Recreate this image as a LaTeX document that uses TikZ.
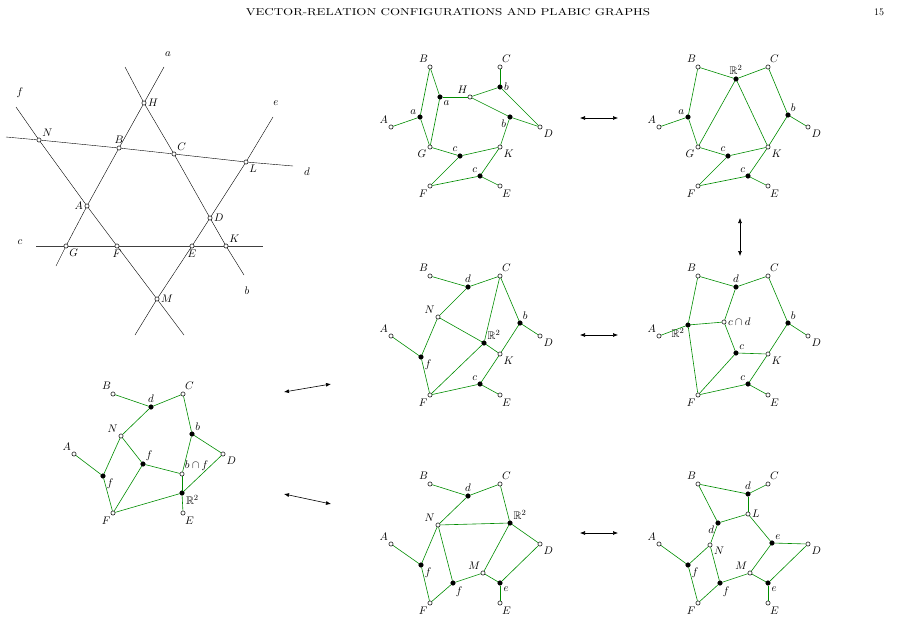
\documentclass[tikz,border=0pt]{standalone}
\usepackage{amsmath}
\usepackage{amssymb}
\usetikzlibrary{arrows.meta}
\tikzset{
  wv/.style={circle,draw,fill=white,inner sep=0pt,minimum size=4.2pt,line width=0.5pt},
  bv/.style={circle,draw,fill=black,inner sep=0pt,minimum size=4.6pt},
  edge/.style={green!55!black,line width=0.6pt},
  lbl/.style={font=\fontsize{11}{13}\selectfont,inner sep=1.5pt},
  mv/.style={<->,>={Latex[length=5pt,width=4pt]},line width=0.6pt}
}
% the six boundary vertices of a plabic graph
\newcommand\Bdry[1]{
  \node[wv,label={[lbl]125:$A$}] (#1A) at (391,127) {};
  \node[wv,label={[lbl]100:$B$}] (#1B) at (430,67) {};
  \node[wv,label={[lbl]80:$C$}] (#1C) at (500,67) {};
  \node[wv,label={[lbl]-40:$D$}] (#1D) at (540,127) {};
  \node[wv,label={[lbl]-80:$E$}] (#1E) at (500,186) {};
  \node[wv,label={[lbl]-110:$F$}] (#1F) at (430,186) {};
}
\begin{document}
\begin{tikzpicture}[x=1pt,y=-1pt]
	\useasboundingbox (0,0) rectangle (897,629);

	% running head
	\node[font=\fontsize{10}{12}\selectfont,xscale=1.3] (head) at (448,12) {VECTOR-RELATION CONFIGURATIONS AND PLABIC GRAPHS};
	\node[font=\fontsize{10}{12}\selectfont] (page) at (879,12) {15};

	% the line arrangement
	\foreach \Name/\Pos/\Where in {H/{144,103}/right,N/{39,140}/above right,B/{119,148}/above,
	  C/{174,154}/above right,L/{246,162}/below right,A/{87,206}/left,D/{210,218}/right,
	  G/{66,246}/below right,F/{117,246}/below,E/{192,246}/below,K/{226,246}/above right,M/{157,299}/right}
	  \node[wv,label={[lbl]\Where:$\Name$}] (l\Name) at (\Pos) {};
	\coordinate (aT) at (164,67); \coordinate (aB) at (56,266);
	\coordinate (bT) at (125,67); \coordinate (bB) at (244,275);
	\coordinate (fT) at (16,107); \coordinate (fB) at (184,335);
	\coordinate (eT) at (273,117); \coordinate (eB) at (135,335);
	\coordinate (dL) at (6,137); \coordinate (dR) at (293,166);
	\coordinate (cL) at (36,246); \coordinate (cR) at (263,246);
	\draw (aT) -- (lH) -- (lB) -- (lA) -- (lG) -- (aB);
	\draw (bT) -- (lH) -- (lC) -- (lD) -- (lK) -- (bB);
	\draw (fT) -- (lN) -- (lA) -- (lF) -- (lM) -- (fB);
	\draw (eT) -- (lL) -- (lD) -- (lE) -- (lM) -- (eB);
	\draw (dL) -- (lN) -- (lB) -- (lC) -- (lL) -- (dR);
	\draw[line width=0.8pt,black!75] (cL) -- (lG) -- (lF) -- (lE) -- (lK) -- (cR);
	\node[lbl] (la) at (168,54) {$a$};
	\node[lbl] (lb) at (247,291) {$b$};
	\node[lbl] (lc) at (20,242) {$c$};
	\node[lbl] (ld) at (307,172) {$d$};
	\node[lbl] (le) at (276,103) {$e$};
	\node[lbl] (lf) at (20,93) {$f$};

	% top middle
	\begin{scope}
	  \Bdry{p}
	  \node[wv,label={[lbl]-150:$G$}] (pG) at (430,147) {};
	  \node[wv,label={[lbl]-40:$K$}] (pK) at (500,147) {};
	  \node[wv,label={[lbl]110:$H$}] (pH) at (470,97) {};
	  \node[bv,label={[lbl]150:$a$}] (pa) at (420,117) {};
	  \node[bv,label={[lbl]-40:$a$}] (pA2) at (440,97) {};
	  \node[bv,label={[lbl]0:$b$}] (pb) at (500,87) {};
	  \node[bv,label={[lbl]-160:$b$}] (pB2) at (510,117) {};
	  \node[bv,label={[lbl]110:$c$}] (pc) at (460,156) {};
	  \node[bv,label={[lbl]120:$c$}] (pC2) at (480,176) {};
	  \foreach \u/\v in {A/a,a/B,a/G,B/A2,A2/G,A2/H,H/b,b/C,b/D,H/B2,B2/D,B2/K,G/c,c/K,c/F,F/C2,C2/K,C2/E}
	    \draw[edge] (p\u) -- (p\v);
	\end{scope}

	% top right
	\begin{scope}[shift={(268,0)}]
	  \Bdry{q}
	  \node[wv,label={[lbl]-150:$G$}] (qG) at (430,147) {};
	  \node[wv,label={[lbl]-40:$K$}] (qK) at (500,147) {};
	  \node[bv,label={[lbl]90:$\mathbb{R}^2$}] (qR) at (468,79) {};
	  \node[bv,label={[lbl]150:$a$}] (qa) at (420,117) {};
	  \node[bv,label={[lbl]60:$b$}] (qb) at (520,115) {};
	  \node[bv,label={[lbl]110:$c$}] (qc) at (460,156) {};
	  \node[bv,label={[lbl]120:$c$}] (qC2) at (480,176) {};
	  \foreach \u/\v in {A/a,a/B,a/G,B/R,R/C,R/G,R/K,C/b,b/D,b/K,G/c,c/K,c/F,F/C2,C2/K,C2/E}
	    \draw[edge] (q\u) -- (q\v);
	\end{scope}

	% middle
	\begin{scope}[shift={(0,209)}]
	  \Bdry{r}
	  \node[bv,label={[lbl]90:$d$}] (rd) at (468,78) {};
	  \node[wv,label={[lbl]135:$N$}] (rN) at (438,108) {};
	  \node[bv,label={[lbl]-30:$f$}] (rf) at (421,148) {};
	  \node[bv,label={[lbl]40:$\mathbb{R}^2$}] (rR) at (484,134) {};
	  \node[bv,label={[lbl]60:$b$}] (rb) at (520,114) {};
	  \node[wv,label={[lbl]-40:$K$}] (rK) at (500,145) {};
	  \node[bv,label={[lbl]120:$c$}] (rc) at (480,175) {};
	  \foreach \u/\v in {B/d,d/C,d/N,N/f,A/f,f/F,N/R,R/C,R/K,R/F,C/b,b/D,b/K,K/c,c/E,c/F}
	    \draw[edge] (r\u) -- (r\v);
	\end{scope}

	\begin{scope}[shift={(268,209)}]
	  \Bdry{s}
	  \node[bv,label={[lbl]90:$d$}] (sd) at (468,78) {};
	  \node[wv,label={[lbl]0:$c\cap d$}] (scd) at (456,113) {};
	  \node[bv,label={[lbl]-140:$\mathbb{R}^2$}] (sR) at (420,116) {};
	  \node[bv,label={[lbl]60:$b$}] (sb) at (520,114) {};
	  \node[bv,label={[lbl]50:$c$}] (sc) at (468,144) {};
	  \node[wv,label={[lbl]-40:$K$}] (sK) at (500,145) {};
	  \node[bv,label={[lbl]120:$c$}] (sC2) at (480,175) {};
	  \foreach \u/\v in {B/d,d/C,d/cd,cd/R,A/R,B/R,R/F,cd/c,c/K,c/F,C/b,b/D,b/K,K/C2,C2/E,C2/F}
	    \draw[edge] (s\u) -- (s\v);
	\end{scope}

	% bottom left
	\begin{scope}[shift={(-317,327)}]
	  \Bdry{t}
	  \node[bv,label={[lbl]90:$d$}] (td) at (468,80) {};
	  \node[wv,label={[lbl]135:$N$}] (tN) at (438,109) {};
	  \node[bv,label={[lbl]-30:$f$}] (tf) at (420,149) {};
	  \node[bv,label={[lbl]60:$f$}] (tF2) at (460,137) {};
	  \node[wv,label={[lbl]60:$b\cap f$}] (tbf) at (499,147) {};
	  \node[bv,label={[lbl]45:$b$}] (tb) at (509,107) {};
	  \node[bv,label={[lbl]-20:$\mathbb{R}^2$}] (tR) at (499,166) {};
	  \foreach \u/\v in {B/d,d/C,d/N,N/f,A/f,f/F,N/F2,F2/F,F2/bf,bf/b,b/C,b/D,bf/R,R/D,R/F,R/E}
	    \draw[edge] (t\u) -- (t\v);
	\end{scope}

	% bottom middle
	\begin{scope}[shift={(0,417)}]
	  \Bdry{u}
	  \node[bv,label={[lbl]90:$d$}] (ud) at (468,79) {};
	  \node[wv,label={[lbl]135:$N$}] (uN) at (438,108) {};
	  \node[bv,label={[lbl]40:$\mathbb{R}^2$}] (uR) at (510,106) {};
	  \node[bv,label={[lbl]-30:$f$}] (uf) at (421,148) {};
	  \node[bv,label={[lbl]-60:$f$}] (uF2) at (453,166) {};
	  \node[wv,label={[lbl]120:$M$}] (uM) at (483,156) {};
	  \node[bv,label={[lbl]-40:$e$}] (ue) at (500,166) {};
	  \foreach \u/\v in {B/d,d/C,d/N,N/R,C/R,R/D,R/M,N/f,A/f,f/F,N/F2,F2/F,F2/M,M/e,e/D,e/E}
	    \draw[edge] (u\u) -- (u\v);
	\end{scope}

	\begin{scope}[shift={(268,417)}]
	  \Bdry{v}
	  \node[bv,label={[lbl]90:$d$}] (vd) at (480,77) {};
	  \node[wv,label={[lbl]0:$L$}] (vL) at (480,97) {};
	  \node[bv,label={[lbl]-160:$d$}] (vD2) at (450,106) {};
	  \node[wv,label={[lbl]-10:$N$}] (vN) at (442,128) {};
	  \node[bv,label={[lbl]50:$e$}] (ve) at (504,126) {};
	  \node[bv,label={[lbl]-30:$f$}] (vf) at (420,148) {};
	  \node[bv,label={[lbl]-60:$f$}] (vF2) at (452,166) {};
	  \node[wv,label={[lbl]120:$M$}] (vM) at (482,156) {};
	  \node[bv,label={[lbl]-40:$e$}] (vE2) at (500,166) {};
	  \foreach \u/\v in {B/d,d/C,d/L,L/D2,B/D2,D2/N,N/f,A/f,f/F,N/F2,F2/F,F2/M,M/E2,E2/E,E2/D,L/e,e/D,e/M}
	    \draw[edge] (v\u) -- (v\v);
	\end{scope}

	% moves
	\coordinate (m1a) at (580,118); \coordinate (m1b) at (618,118);
	\coordinate (m2a) at (740,218); \coordinate (m2b) at (740,256);
	\coordinate (m3a) at (580,335); \coordinate (m3b) at (618,335);
	\coordinate (m4a) at (580,533); \coordinate (m4b) at (618,533);
	\coordinate (m5a) at (284,392); \coordinate (m5b) at (331,384);
	\coordinate (m6a) at (284,494); \coordinate (m6b) at (331,504);
	\foreach \i in {1,...,6}
	  \draw[mv] (m\i a) -- (m\i b);
\end{tikzpicture}
\end{document}
